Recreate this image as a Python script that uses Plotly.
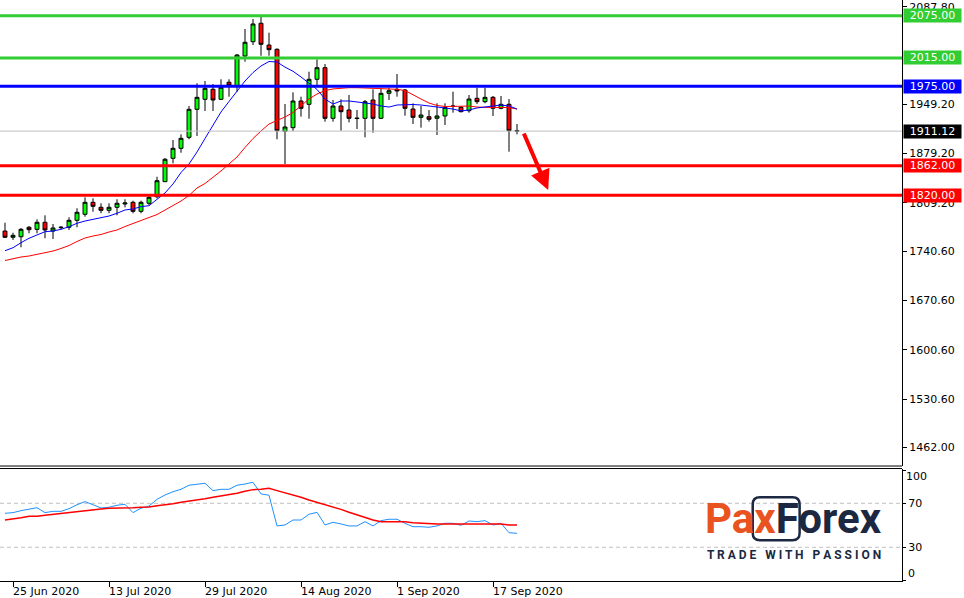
import plotly.graph_objects as go

# ---------------- data ----------------
dates = [
    "2020-06-24", "2020-06-25", "2020-06-26", "2020-06-29", "2020-06-30",
    "2020-07-01", "2020-07-02", "2020-07-03", "2020-07-06", "2020-07-07", "2020-07-08", "2020-07-09",
    "2020-07-10", "2020-07-13", "2020-07-14", "2020-07-15", "2020-07-16", "2020-07-17", "2020-07-20",
    "2020-07-21", "2020-07-22", "2020-07-23", "2020-07-24", "2020-07-27", "2020-07-28", "2020-07-29",
    "2020-07-30", "2020-07-31",
    "2020-08-03", "2020-08-04", "2020-08-05", "2020-08-06", "2020-08-07", "2020-08-10", "2020-08-11",
    "2020-08-12", "2020-08-13", "2020-08-14", "2020-08-17", "2020-08-18", "2020-08-19", "2020-08-20",
    "2020-08-21", "2020-08-24", "2020-08-25", "2020-08-26", "2020-08-27", "2020-08-28", "2020-08-31",
    "2020-09-01", "2020-09-02", "2020-09-03", "2020-09-04", "2020-09-07", "2020-09-08", "2020-09-09",
    "2020-09-10", "2020-09-11", "2020-09-14", "2020-09-15", "2020-09-16", "2020-09-17", "2020-09-18",
    "2020-09-21", "2020-09-22",
]

opens = [1769.2, 1760.3, 1761.1, 1774.5, 1771.6, 1781.6, 1769.2, 1773.9, 1774.5, 1784.4,
         1793.0, 1810.0, 1802.9, 1798.6, 1802.9, 1807.6, 1810.0, 1797.2, 1808.6, 1817.9,
         1839.3, 1872.5, 1886.7, 1902.3, 1942.1, 1956.3, 1970.5, 1956.3, 1980.5, 1975.2,
         2017.8, 2038.1, 2064.3, 2033.4, 2027.3, 1910.9, 1916.0, 1953.9, 1949.2, 1984.7,
         2001.2, 1929.3, 1946.8, 1941.1, 1929.7, 1929.3, 1955.3, 1929.3, 1964.8, 1970.5,
         1969.5, 1942.5, 1930.7, 1931.6, 1929.3, 1932.6, 1946.8, 1944.9, 1940.1, 1957.7,
         1952.9, 1959.1, 1943.5, 1949.2, 1912.0]
highs = [1781.0, 1766.8, 1773.5, 1776.3, 1785.8, 1791.5, 1779.2, 1776.3, 1788.7, 1801.5,
         1817.1, 1815.7, 1808.6, 1808.6, 1814.3, 1814.3, 1812.3, 1812.3, 1820.4, 1846.3,
         1872.9, 1898.5, 1906.6, 1946.8, 1979.0, 1982.3, 1978.0, 1984.7, 1984.7, 2020.6,
         2056.2, 2070.4, 2073.6, 2050.9, 2028.7, 1949.6, 1966.2, 1960.0, 1995.5, 2013.1,
         2006.4, 1955.3, 1956.3, 1962.4, 1941.1, 1955.3, 1970.5, 1971.9, 1972.8, 1992.2,
         1971.0, 1950.6, 1946.8, 1941.1, 1950.6, 1950.6, 1967.1, 1946.8, 1962.4, 1972.8,
         1972.8, 1961.0, 1961.0, 1956.7, 1921.2]
lows = [1759.3, 1756.5, 1746.1, 1766.0, 1766.0, 1758.9, 1757.9, 1771.3, 1770.7, 1774.5,
        1789.5, 1796.6, 1794.4, 1794.4, 1791.5, 1802.9, 1794.4, 1794.4, 1805.7, 1815.7,
        1838.8, 1865.4, 1880.4, 1899.5, 1904.2, 1939.7, 1939.7, 1955.3, 1960.0, 1967.1,
        2009.7, 2033.4, 2018.2, 2018.2, 1899.5, 1864.4, 1911.3, 1931.6, 1928.7, 1974.2,
        1924.5, 1924.5, 1911.7, 1923.6, 1914.1, 1902.3, 1908.9, 1928.3, 1955.3, 1960.0,
        1933.0, 1921.2, 1916.0, 1924.5, 1905.6, 1919.8, 1937.3, 1937.8, 1937.3, 1949.6,
        1950.6, 1932.6, 1942.1, 1881.9, 1906.6]
closes = [1760.3, 1763.1, 1771.6, 1771.1, 1781.6, 1770.7, 1773.5, 1774.5, 1784.4, 1795.8,
          1810.0, 1804.3, 1798.6, 1802.9, 1808.6, 1809.0, 1797.2, 1810.0, 1817.1, 1840.7,
          1871.1, 1886.7, 1900.9, 1942.1, 1959.1, 1971.9, 1955.3, 1973.4, 1976.2, 2019.2,
          2037.3, 2063.3, 2034.4, 2026.8, 1911.7, 1917.0, 1953.9, 1943.5, 1984.7, 2001.2,
          1929.3, 1946.8, 1938.7, 1929.3, 1929.0, 1952.9, 1929.3, 1964.8, 1968.5, 1968.1,
          1943.5, 1930.7, 1934.0, 1927.9, 1932.6, 1944.9, 1946.3, 1938.7, 1956.7, 1952.9,
          1959.1, 1943.5, 1949.2, 1911.7, 1911.12]

ma_fast = [1741.2, 1745.5, 1752.6, 1758.9, 1763.6, 1768.2, 1769.2, 1771.6, 1775.3, 1780.2,
           1783.4, 1785.9, 1788.1, 1790.5, 1794.4, 1799.1, 1800.5, 1803.8, 1805.2, 1814.7,
           1823.2, 1836.0, 1852.3, 1864.4, 1881.4, 1900.6, 1919.8, 1938.3, 1953.2, 1968.1,
           1982.3, 1994.3, 2003.6, 2010.0, 2009.3, 2002.0, 1996.1, 1988.0, 1979.5, 1970.3,
           1956.7, 1949.6, 1953.9, 1953.9, 1952.5, 1951.0, 1949.6, 1946.8, 1945.3, 1948.2,
           1948.9, 1948.9, 1948.2, 1946.8, 1945.3, 1944.6, 1942.5, 1939.7, 1941.1, 1944.0,
           1945.3, 1946.8, 1948.2, 1946.8, 1942.5]
ma_slow = [1727.3, 1730.2, 1732.3, 1733.7, 1735.8, 1738.0, 1740.8, 1744.4, 1748.6, 1754.3,
           1759.3, 1762.1, 1764.3, 1767.8, 1770.7, 1775.6, 1780.2, 1784.4, 1788.4, 1792.6,
           1799.1, 1805.5, 1811.8, 1819.7, 1830.3, 1836.7, 1845.2, 1854.5, 1864.4, 1874.3,
           1887.8, 1900.6, 1911.3, 1921.2, 1926.2, 1931.2, 1937.5, 1946.8, 1956.7, 1963.8,
           1968.8, 1971.0, 1972.4, 1972.8, 1972.8, 1972.4, 1971.7, 1971.0, 1970.5, 1970.5,
           1968.8, 1962.4, 1956.7, 1951.0, 1947.5, 1946.1, 1945.8, 1946.4, 1946.8, 1945.3,
           1944.9, 1944.9, 1944.9, 1944.6, 1942.5]

rsi = [60.9, 61.5, 63.3, 64.5, 66.0, 61.5, 62.7, 62.7, 65.1, 68.7,
       71.5, 68.7, 65.7, 66.4, 68.2, 69.1, 61.5, 65.5, 67.5, 73.6,
       77.5, 80.5, 82.7, 86.4, 87.5, 88.2, 81.5, 82.7, 82.7, 86.4,
       87.5, 89.1, 78.5, 77.3, 49.4, 50.3, 54.8, 54.8, 60.0, 61.8,
       50.3, 52.7, 51.2, 49.4, 49.4, 53.3, 49.4, 54.2, 55.5, 55.5,
       51.8, 48.7, 48.7, 48.2, 49.4, 51.8, 51.8, 50.0, 53.9, 53.3,
       54.2, 50.3, 51.8, 43.3, 42.7]
rsi_signal = [54.8, 55.7, 56.9, 58.2, 58.2, 59.1, 60.0, 60.3, 61.5, 62.7,
              63.6, 64.5, 64.8, 65.5, 65.5, 66.0, 66.0, 66.4, 66.6, 67.8,
              68.5, 69.6, 70.9, 71.8, 72.7, 74.2, 75.5, 76.6, 77.8, 79.1,
              80.9, 82.4, 82.7, 83.6, 81.5, 79.6, 77.8, 75.5, 73.0, 70.9,
              69.1, 66.4, 64.5, 61.8, 59.4, 57.3, 54.8, 53.3, 53.3, 53.3,
              53.3, 52.4, 51.8, 51.2, 51.2, 51.2, 51.2, 51.2, 51.8, 51.8,
              51.8, 51.8, 51.2, 50.3, 50.3]

levels = [2075.00, 2015.00, 1975.00, 1862.00, 1820.00]
level_colors = ["#32cd32", "#32cd32", "#0000ff", "#ff0000", "#ff0000"]
last_price = 1911.12

price_ticks = [2087.80, 1949.20, 1879.20, 1809.20, 1740.60, 1670.60, 1600.60, 1530.60, 1462.00]
osc_ticks = [100, 70, 30, 0]
osc_levels = [70, 30]
date_ticks = ["2020-06-25", "2020-07-13", "2020-07-29", "2020-08-14", "2020-09-01", "2020-09-17"]
date_labels = ["25 Jun 2020", "13 Jul 2020", "29 Jul 2020", "14 Aug 2020", "1 Sep 2020", "17 Sep 2020"]

arrow_tip = (67.9, 1827.5)   # target of the forecast arrow (bar index, price)

# ---------------- figure ----------------
FONT = "DejaVu Sans"
NAVY = "#1c2841"
fig = go.Figure()

fig.add_trace(go.Candlestick(
    x=dates, open=opens, high=highs, low=lows, close=closes,
    increasing=dict(fillcolor="#00ff00", line=dict(color="black", width=1)),
    decreasing=dict(fillcolor="#ff0000", line=dict(color="black", width=1)),
    whiskerwidth=0, xaxis="x", yaxis="y", hoverinfo="skip",
))
fig.add_trace(go.Scatter(x=dates, y=ma_slow, mode="lines", line=dict(color="#ff0000", width=1),
                         xaxis="x", yaxis="y", hoverinfo="skip"))
fig.add_trace(go.Scatter(x=dates, y=ma_fast, mode="lines", line=dict(color="#0000ff", width=1),
                         xaxis="x", yaxis="y", hoverinfo="skip"))
fig.add_trace(go.Scatter(x=dates, y=rsi, mode="lines", line=dict(color="#1e90ff", width=1),
                         xaxis="x", yaxis="y2", hoverinfo="skip"))
fig.add_trace(go.Scatter(x=dates, y=rsi_signal, mode="lines", line=dict(color="#ff0000", width=1.5),
                         xaxis="x", yaxis="y2", hoverinfo="skip"))

shapes = []
shapes.append(dict(type="line", xref="paper", x0=0, x1=1, yref="y", y0=last_price, y1=last_price,
                   line=dict(color="#c0c0c0", width=1), layer="above"))
for lv, col in zip(levels, level_colors):
    shapes.append(dict(type="line", xref="paper", x0=0, x1=1, yref="y", y0=lv, y1=lv,
                       line=dict(color=col, width=3), layer="above"))
for lv in osc_levels:
    shapes.append(dict(type="line", xref="paper", x0=0, x1=1, yref="y2", y0=lv, y1=lv,
                       line=dict(color="#c0c0c0", width=1, dash="4px,3px"), layer="below"))
shapes.append(dict(type="line", xref="paper", x0=0, x1=1, yref="y domain", y0=0, y1=0,
                   line=dict(color="black", width=1)))
shapes.append(dict(type="line", xref="paper", x0=0, x1=1, yref="y2 domain", y0=1, y1=1,
                   line=dict(color="black", width=1)))
# rounded box of the logo around "F"
bx0, bx1, by0, by1, r = 0.8345, 0.8865, 0.070, 0.144, 0.008
ry = r * 902 / 581
shapes.append(dict(
    type="path", xref="paper", yref="paper",
    path=(f"M {bx0 + r},{by1} L {bx1 - r},{by1} Q {bx1},{by1} {bx1},{by1 - ry} "
          f"L {bx1},{by0 + ry} Q {bx1},{by0} {bx1 - r},{by0} L {bx0 + r},{by0} "
          f"Q {bx0},{by0} {bx0},{by0 + ry} L {bx0},{by1 - ry} Q {bx0},{by1} {bx0 + r},{by1} Z"),
    line=dict(color=NAVY, width=2.5), layer="above"))

annotations = []
for lv, col in zip(levels, level_colors):
    annotations.append(dict(x=1, xref="paper", xanchor="left", xshift=1, y=lv, yref="y", yanchor="middle",
                            text=f"{lv:.2f}", showarrow=False, bgcolor=col, width=57, height=13,
                            borderpad=0, font=dict(family=FONT, size=11, color="white")))
annotations.append(dict(x=1, xref="paper", xanchor="left", xshift=1, y=last_price, yref="y", yanchor="middle",
                        text=f"{last_price:.2f}", showarrow=False, bgcolor="black", width=57, height=13,
                        borderpad=0, font=dict(family=FONT, size=11, color="white")))
for d, lab in zip(date_ticks, date_labels):
    annotations.append(dict(x=d, xref="x", xanchor="left", xshift=-2, y=0, yref="paper", yanchor="top",
                            yshift=-2, text=lab, showarrow=False,
                            font=dict(family=FONT, size=11, color="black")))
annotations.append(dict(x=1, xref="paper", xanchor="left", xshift=2, y=100, yref="y2", yanchor="middle",
                        yshift=-6, text="100", showarrow=False, font=dict(family=FONT, size=11, color="black")))
annotations.append(dict(x=1, xref="paper", xanchor="left", xshift=4, y=0, yref="y2", yanchor="middle",
                        yshift=7, text="0", showarrow=False, font=dict(family=FONT, size=11, color="black")))
annotations.append(dict(x=arrow_tip[0], y=arrow_tip[1], xref="x", yref="y", ax=-25, ay=-58,
                        showarrow=True, arrowhead=2, arrowsize=1, arrowwidth=4, arrowcolor="#ff0000",
                        standoff=0, text=""))
annotations.append(dict(x=0.8797, y=0.107, xref="paper", yref="paper", xanchor="center", yanchor="middle",
                        showarrow=False,
                        text=f'<b><span style="color:#e8531f">Pax</span><span style="color:{NAVY}">Forex</span></b>',
                        font=dict(family="Roboto", size=42)))
annotations.append(dict(x=0.8808, y=0.044, xref="paper", yref="paper", xanchor="center", yanchor="middle",
                        showarrow=False,
                        text="<b>T R A D E   W I T H   P A S S I O N</b>",
                        font=dict(family="Roboto", size=12, color=NAVY)))

fig.update_layout(
    width=964, height=598,
    margin=dict(l=0, r=62, t=0, b=17),
    paper_bgcolor="white", plot_bgcolor="white",
    showlegend=False,
    shapes=shapes, annotations=annotations,
    xaxis=dict(type="category", range=[-0.625, 112.125], anchor="y2",
               showline=True, linecolor="black", linewidth=1,
               ticks="outside", ticklen=5, tickcolor="black",
               tickvals=date_ticks, showticklabels=False,
               showgrid=False, zeroline=False, rangeslider=dict(visible=False)),
    yaxis=dict(domain=[0.1979, 1], range=[1435.4, 2097.35], side="right", anchor="x",
               showline=True, linecolor="black", linewidth=1,
               ticks="outside", ticklen=4, tickcolor="black",
               tickvals=price_ticks, ticktext=[f"{v:.2f}" for v in price_ticks],
               tickfont=dict(family=FONT, size=11, color="black"),
               showgrid=False, zeroline=False),
    yaxis2=dict(domain=[0, 0.1936], range=[-0.64, 101.6], side="right", anchor="x",
                showline=True, linecolor="black", linewidth=1,
                ticks="outside", ticklen=3, tickcolor="black",
                tickvals=osc_ticks, ticktext=["", "70", "30", ""],
                tickfont=dict(family=FONT, size=11, color="black"),
                showgrid=False, zeroline=False),
)

fig.write_html("out.html", config={"displayModeBar": False},
               post_script="document.body.style.margin='0';document.body.style.padding='0';")
